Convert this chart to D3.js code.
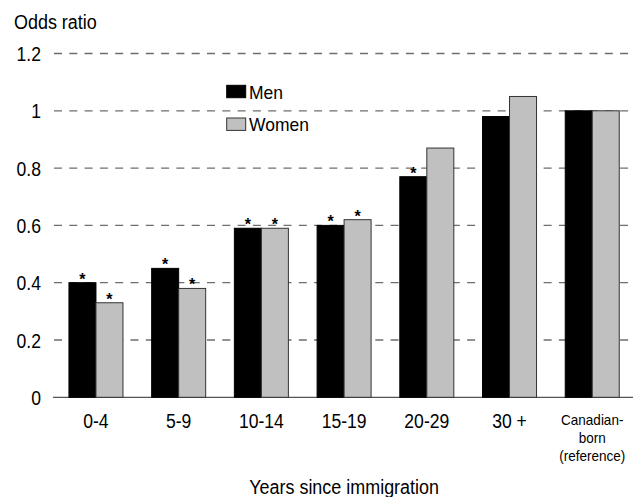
<!DOCTYPE html>
<html>
<head>
<meta charset="utf-8">
<script src="https://cdn.jsdelivr.net/npm/d3@7"></script>
<style>
  html, body { margin: 0; padding: 0; background: #fff; }
  text { font-family: "Liberation Sans", Arial, sans-serif; fill: #000; }
</style>
</head>
<body>
<svg id="chart" width="635" height="497"></svg>
<script>
// Odds ratios by years since immigration
const categories = ["0-4", "5-9", "10-14", "15-19", "20-29", "30 +", "Canadian-born (reference)"];
const categoryLines = [["0-4"], ["5-9"], ["10-14"], ["15-19"], ["20-29"], ["30 +"], ["Canadian-", "born", "(reference)"]];
const seriesNames = ["Men", "Women"];
const menValues = [0.40, 0.45, 0.59, 0.60, 0.77, 0.98, 1.00];
const womenValues = [0.33, 0.38, 0.59, 0.62, 0.87, 1.05, 1.00];
// statistically significant difference from the reference group
const menSignificant = [true, true, true, true, true, false, false];
const womenSignificant = [true, true, true, true, false, false, false];
const yTicks = [0, 0.2, 0.4, 0.6, 0.8, 1, 1.2];
const yLabel = "Odds ratio";
const xLabel = "Years since immigration";

const colors = { Men: "#000000", Women: "#c0c0c0" };
const strokes = { Men: "#000000", Women: "#333333" };

const svg = d3.select("#chart");
const plot = { left: 54.6, right: 633.6, top: 53.5, bottom: 397.3 };

const x = d3.scaleBand()
  .domain(categories)
  .range([plot.left, plot.right])
  .paddingInner(0.347)
  .paddingOuter(0.1735);

const xSeries = d3.scaleBand()
  .domain(seriesNames)
  .range([0, x.bandwidth()]);

const y = d3.scaleLinear().domain([0, 1.2]).range([plot.bottom, plot.top]);

// condensed lettering
function condense(sel, f) {
  sel.each(function () {
    const len = this.getComputedTextLength();
    d3.select(this).attr("textLength", len * f).attr("lengthAdjust", "spacingAndGlyphs");
  });
}

// dashed gridlines
svg.append("g")
  .selectAll("line")
  .data(yTicks.filter(d => d > 0))
  .join("line")
  .attr("x1", 54).attr("x2", 633)
  .attr("y1", d => y(d)).attr("y2", d => y(d))
  .attr("stroke", "#6e6e6e")
  .attr("stroke-width", 1.3)
  .attr("stroke-dasharray", "8,7.3");

// baseline
svg.append("line")
  .attr("x1", 53).attr("x2", 633)
  .attr("y1", y(0)).attr("y2", y(0))
  .attr("stroke", "#555").attr("stroke-width", 1.3);

// y tick labels
const yAxis = svg.append("g")
  .selectAll("text")
  .data(yTicks)
  .join("text")
  .attr("x", 41)
  .attr("y", d => y(d) + 7.5)
  .attr("text-anchor", "end")
  .style("font-size", "19.5px")
  .text(d => d3.format("~g")(d));
condense(yAxis, 0.9);

// bars
const rows = categories.map((c, i) => ({
  category: c,
  values: [
    { series: "Men", value: menValues[i], sig: menSignificant[i] },
    { series: "Women", value: womenValues[i], sig: womenSignificant[i] }
  ]
}));

const groups = svg.append("g")
  .selectAll("g")
  .data(rows)
  .join("g")
  .attr("transform", d => `translate(${x(d.category)},0)`);

groups.selectAll("rect")
  .data(d => d.values)
  .join("rect")
  .attr("x", d => xSeries(d.series))
  .attr("y", d => y(d.value))
  .attr("width", xSeries.bandwidth())
  .attr("height", d => y(0) - y(d.value))
  .attr("fill", d => colors[d.series])
  .attr("stroke", d => strokes[d.series])
  .attr("stroke-width", 1);

groups.selectAll("text.sig")
  .data(d => d.values.filter(v => v.sig))
  .join("text")
  .attr("class", "sig")
  .attr("x", d => xSeries(d.series) + xSeries.bandwidth() / 2)
  .attr("y", d => y(d.value) + 2)
  .attr("text-anchor", "middle")
  .style("font-size", "16px")
  .style("font-weight", "bold")
  .text("*");

// category labels
categoryLines.forEach((lines, i) => {
  const cx = x(categories[i]) + x.bandwidth() / 2;
  if (lines.length === 1) {
    const t = svg.append("text")
      .attr("x", cx).attr("y", 427.7)
      .attr("text-anchor", "middle")
      .style("font-size", "19.5px")
      .text(lines[0]);
    condense(t, 0.9);
  } else {
    lines.forEach((ln, j) => {
      const t = svg.append("text")
        .attr("x", cx).attr("y", 425 + j * 18)
        .attr("text-anchor", "middle")
        .style("font-size", "15px")
        .text(ln);
      condense(t, 0.9);
    });
  }
});

// axis titles
const yt = svg.append("text")
  .attr("x", 14).attr("y", 29.3)
  .style("font-size", "19.5px")
  .text(yLabel);
condense(yt, 0.92);

const xt = svg.append("text")
  .attr("x", (plot.left + plot.right) / 2).attr("y", 494.3)
  .attr("text-anchor", "middle")
  .style("font-size", "19.5px")
  .text(xLabel);
condense(xt, 0.92);

// legend
const legend = svg.append("g");
seriesNames.forEach((s, i) => {
  const ly = 85.3 + i * 32.7;
  legend.append("rect")
    .attr("x", 226.7).attr("y", ly)
    .attr("width", 19).attr("height", 12.4)
    .attr("fill", colors[s])
    .attr("stroke", s === "Women" ? "#333" : "#000")
    .attr("stroke-width", 1);
  const t = legend.append("text")
    .attr("x", 249).attr("y", ly + 13.4)
    .style("font-size", "19px")
    .text(s);
  condense(t, 0.92);
});
</script>
</body>
</html>
